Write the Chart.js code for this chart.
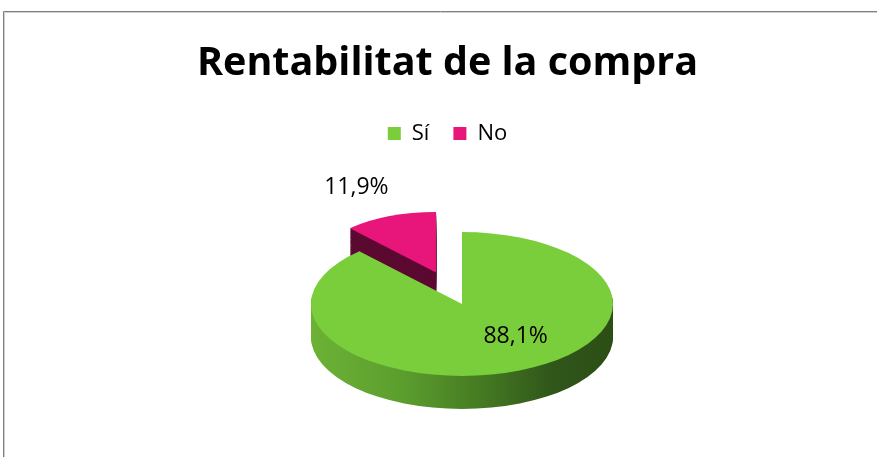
<!DOCTYPE html>
<html>
<head>
<meta charset="utf-8">
<script src="https://cdn.jsdelivr.net/npm/chart.js@4.4.1/dist/chart.umd.min.js"></script>
<style>
  html, body { margin: 0; padding: 0; background: #fff; }
  #wrap { width: 877px; height: 457px; }
</style>
</head>
<body>
<div id="wrap"><canvas id="myChart" width="877" height="457"></canvas></div>
<script>
// dades del gràfic
var categories = ['Sí', 'No'];
var values = [88.1, 11.9];
var topColors = ['#7acd3b', '#e8157b'];
var sideColors = ['#4f8a28', '#5c0a31'];

// geometria del pastís 3D (en pantalla)
var PIE_CX = 462, PIE_CY = 304, RX = 151, RY = 72;
var DEPTH = 33;
var EXPLODE = 0.47;   // separació de la porció "No"
var FAR_SCALE = 0.84; // la porció del fons es veu més petita

function fmt(v) {
    return v.toFixed(1).replace('.', ',') + '%';
}

// col·loca la porció i en pantalla (aixafada en vertical)
function place(chart, ctx, i, dy) {
    var arcs = chart.getDatasetMeta(0).data;
    var arc = arcs[i];
    var R = arcs[0].outerRadius;
    var mid = (arc.startAngle + arc.endAngle) / 2;
    var ox = 0, oy = 0, k = 1;
    if (i === 1) {
        ox = Math.cos(mid) * EXPLODE * RX;
        oy = Math.sin(mid) * EXPLODE * RY;
        k = FAR_SCALE;
    }
    ctx.translate(PIE_CX + ox, PIE_CY + oy + dy * k);
    ctx.scale(k * RX / R, k * RY / R);
    ctx.translate(-arc.x, -arc.y);
}

function slicePath(ctx, arc) {
    ctx.beginPath();
    ctx.moveTo(arc.x, arc.y);
    ctx.arc(arc.x, arc.y, arc.outerRadius, arc.startAngle, arc.endAngle);
    ctx.closePath();
}

var pie3d = {
    id: 'pie3d',
    beforeDraw: function(chart) {
        var ctx = chart.ctx;
        ctx.save();
        ctx.lineWidth = 1;
        ctx.strokeStyle = '#7f7f7f';
        ctx.beginPath();
        ctx.moveTo(3.5, 457);
        ctx.lineTo(3.5, 11.5);
        ctx.lineTo(877, 11.5);
        ctx.stroke();
        ctx.strokeStyle = '#d0d0d0';
        ctx.beginPath();
        ctx.moveTo(4.5, 457);
        ctx.lineTo(4.5, 12.5);
        ctx.lineTo(877, 12.5);
        ctx.stroke();
        ctx.restore();
    },
    beforeDatasetsDraw: function(chart) {
        var ctx = chart.ctx;
        var arcs = chart.getDatasetMeta(0).data;
        var R = arcs[0].outerRadius;
        var cx = arcs[0].x;

        // degradat del lateral verd (coordenades sense escalar)
        var toU = function(sx) { return cx + (sx - PIE_CX) * R / RX; };
        var grad = ctx.createLinearGradient(toU(PIE_CX - RX), 0, toU(PIE_CX + RX), 0);
        grad.addColorStop(0, '#6cb236');
        grad.addColorStop(0.3, '#5c9e2e');
        grad.addColorStop(0.55, '#467c22');
        grad.addColorStop(0.8, '#30561a');
        grad.addColorStop(1, '#2c4e15');

        // laterals
        [1, 0].forEach(function(i) {
            for (var d = DEPTH; d >= 1; d--) {
                ctx.save();
                place(chart, ctx, i, d);
                ctx.fillStyle = i === 0 ? grad : sideColors[i];
                slicePath(ctx, arcs[i]);
                ctx.fill();
                ctx.restore();
            }
        });

        // cares superiors
        [1, 0].forEach(function(i) {
            ctx.save();
            place(chart, ctx, i, 0);
            ctx.fillStyle = topColors[i];
            slicePath(ctx, arcs[i]);
            ctx.fill();
            ctx.restore();
        });
        return false;
    },
    afterDraw: function(chart) {
        var ctx = chart.ctx;
        var arcs = chart.getDatasetMeta(0).data;
        // posició radial i petit ajust de cada etiqueta
        var radial = [0.7, 1.3];
        var nudge = [[15, -14], [-8, 2]];
        ctx.save();
        ctx.font = '23px "Open Sans"';
        ctx.fillStyle = '#000';
        ctx.textAlign = 'center';
        ctx.textBaseline = 'middle';
        arcs.forEach(function(arc, i) {
            var mid = (arc.startAngle + arc.endAngle) / 2;
            var x = PIE_CX + Math.cos(mid) * radial[i] * RX + nudge[i][0];
            var y = PIE_CY + Math.sin(mid) * radial[i] * RY + nudge[i][1];
            if (i === 1) {
                x += Math.cos(mid) * EXPLODE * RX;
                y += Math.sin(mid) * EXPLODE * RY;
            }
            ctx.fillText(fmt(values[i]), x, y);
        });
        ctx.restore();
    }
};

var ctx = document.getElementById('myChart').getContext('2d');
window.myChart = new Chart(ctx, {
    type: 'pie',
    data: {
        labels: categories,
        datasets: [{
            data: values,
            backgroundColor: topColors,
            borderWidth: 0
        }]
    },
    options: {
        responsive: false,
        animation: false,
        events: [],
        layout: {
            padding: { left: 18, right: 0, top: 0, bottom: 20 }
        },
        plugins: {
            title: {
                display: true,
                text: 'Rentabilitat de la compra',
                color: '#000',
                font: { family: 'Open Sans', size: 39.5, weight: 'bold' },
                padding: { top: 40, bottom: 11 }
            },
            legend: {
                position: 'top',
                labels: {
                    color: '#000',
                    boxWidth: 13,
                    boxHeight: 13,
                    padding: 24,
                    font: { family: 'Open Sans', size: 22 }
                }
            },
            tooltip: { enabled: false }
        }
    },
    plugins: [pie3d]
});
</script>
</body>
</html>
